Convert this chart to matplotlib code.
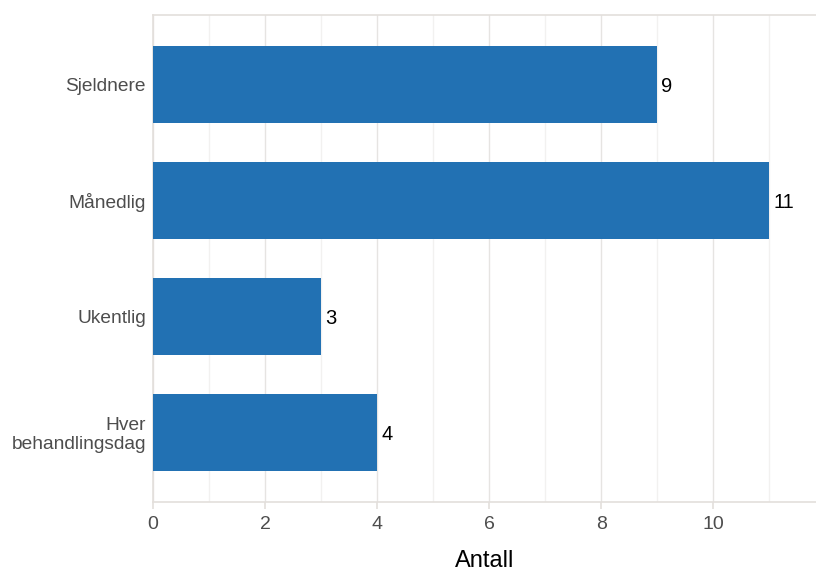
import matplotlib
matplotlib.use("Agg")
import matplotlib.pyplot as plt
from matplotlib.ticker import MultipleLocator

plt.rcParams["font.family"] = ["Liberation Sans", "DejaVu Sans"]

categories = ["Hver\nbehandlingsdag", "Ukentlig", "Månedlig", "Sjeldnere"]
counts = [4, 3, 11, 9]
x_ticks = [0, 2, 4, 6, 8, 10]
x_label = "Antall"

bar_color = "#2271b3"
spine_color = "#e3dfdb"

fig = plt.figure(figsize=(8.16, 5.72), dpi=100)
ax = fig.add_axes([0.1875, 0.1224, 0.8125, 0.8514])

ypos = list(range(len(categories)))
ax.barh(ypos, counts, height=0.67, color=bar_color, zorder=3)

for y, v in zip(ypos, counts):
    ax.text(v + 0.07, y - 0.015, str(v), va="center", ha="left", fontsize=14.5,
            color="black", zorder=4)

ax.set_xlim(0, 11.83)
ax.set_ylim(-0.6, 3.6)
ax.set_yticks(ypos)
ax.set_yticklabels(categories, fontsize=13.8, color="#4d4d4d", linespacing=1.12)
ax.set_xticks(x_ticks)
ax.set_xticklabels([str(t) for t in x_ticks], fontsize=14, color="#4d4d4d")
ax.xaxis.set_minor_locator(MultipleLocator(1))

ax.grid(axis="x", which="major", color="#e6e4e2", linewidth=1.0, zorder=0)
ax.grid(axis="x", which="minor", color="#f2f1f0", linewidth=1.0, zorder=0)

ax.tick_params(axis="y", length=0, pad=5)
ax.tick_params(axis="x", which="major", length=5, color=spine_color, width=1.2, pad=5)
ax.tick_params(axis="x", which="minor", length=0)

for side in ["left", "top", "bottom"]:
    ax.spines[side].set_color(spine_color)
    ax.spines[side].set_linewidth(1.2)
ax.spines["right"].set_visible(False)

ax.set_xlabel(x_label, fontsize=17, color="black", labelpad=12.5)

fig.savefig("out.png", dpi=100)
